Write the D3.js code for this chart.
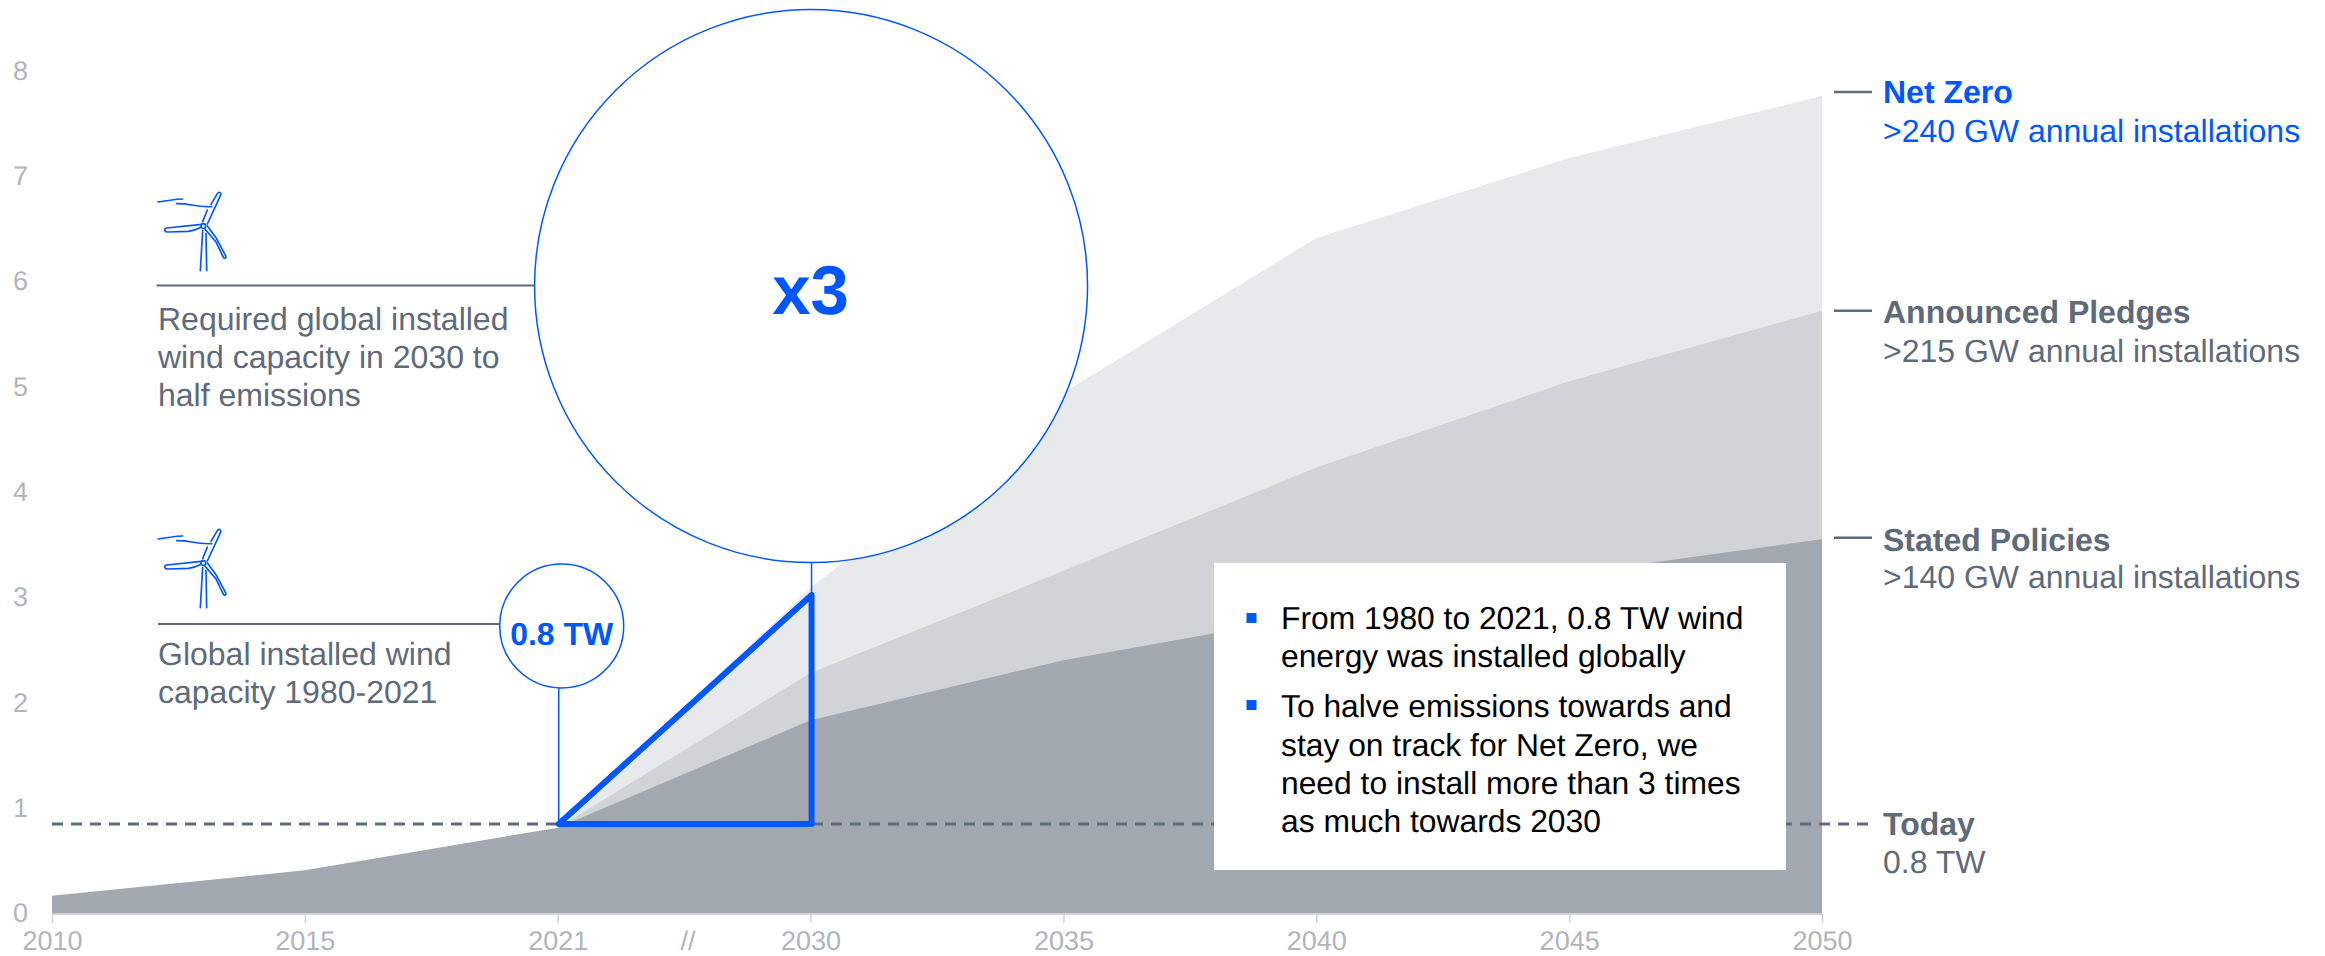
<!DOCTYPE html>
<html><head><meta charset="utf-8">
<script src="https://cdn.jsdelivr.net/npm/d3@7/dist/d3.min.js"></script>
<style>
html,body{margin:0;padding:0;background:#fff}
svg{display:block}
text{font-family:"Liberation Sans",Arial,sans-serif;text-rendering:geometricPrecision}
</style></head><body>
<svg id="chart" width="2325" height="956"></svg>
<script>
const years = ["2010","2015","2021","2030","2035","2040","2045","2050"];
const yTicks = [0,1,2,3,4,5,6,7,8];
const statedPolicies = [0.165,0.405,0.81,1.83,2.40,2.83,3.22,3.55];
const announcedPledges = [null,null,0.81,2.28,3.25,4.23,5.05,5.72];
const netZero = [null,null,0.81,3.09,4.94,6.41,7.17,7.76];
const today = 0.845;
const multiplier = 3.02;
const seriesColors = {net:"#e8e9eb",ann:"#d0d3d8",sta:"#a2a8af"};
const BLUE="#0057ff", GREY="#5f6b7a", TICK="#b0b5bd";

const svg=d3.select("#chart");
const x=d3.scalePoint().domain(years).range([52,1822]);
const y=d3.scaleLinear().domain([0,8]).range([913,70.6]);
const area=d3.area().defined(d=>d.v!==null).x(d=>x(d.year)).y0(y(0)).y1(d=>y(d.v));
const rows=a=>years.map((year,i)=>({year,v:a[i]}));

[[netZero,seriesColors.net],[announcedPledges,seriesColors.ann],[statedPolicies,seriesColors.sta]].forEach(([a,c])=>{
  svg.append("path").attr("d",area(rows(a))).attr("fill",c);
});

// axes
const gx=svg.append("g").attr("transform","translate(0,914)").call(d3.axisBottom(x).tickSize(9).tickPadding(8));
gx.select(".domain").attr("stroke","#d0d3d8").attr("stroke-width",2).attr("d",`M${x("2010")},0H${x("2050")}`);
gx.selectAll(".tick line").attr("stroke","#d0d3d8").attr("stroke-width",1.5);
gx.selectAll("text").attr("fill",TICK).attr("font-size",27).attr("font-family",'"Liberation Sans"');
const gy=svg.append("g").attr("transform","translate(28,0)").call(d3.axisLeft(y).tickValues(yTicks).tickSize(0).tickPadding(0));
gy.select(".domain").remove();
gy.selectAll("text").attr("fill",TICK).attr("font-size",27).attr("font-family",'"Liberation Sans"');
svg.append("text").text("//").attr("x",688).attr("y",950).attr("text-anchor","middle").attr("fill",TICK).attr("font-size",27);

// today dashed
svg.append("line").attr("x1",x("2010")).attr("x2",1872).attr("y1",y(today)).attr("y2",y(today))
  .attr("stroke",GREY).attr("stroke-width",3).attr("stroke-dasharray","11 8");

// big circle & connectors
const dx=1;
svg.append("line").attr("x1",156.5).attr("x2",534).attr("y1",285.5).attr("y2",285.5).attr("stroke",GREY).attr("stroke-width",2);
svg.append("circle").attr("cx",x("2030")+dx-0.5).attr("cy",286).attr("r",276.5).attr("fill","#fff").attr("stroke",BLUE).attr("stroke-width",1.5);
svg.append("line").attr("x1",x("2030")+dx).attr("x2",x("2030")+dx).attr("y1",562).attr("y2",y(multiplier)).attr("stroke",BLUE).attr("stroke-width",1.5);
svg.append("text").text("x3").attr("x",x("2030")+dx-1).attr("y",314).attr("text-anchor","middle").attr("fill",BLUE).attr("font-size",69).attr("font-weight",700);

// small circle
svg.append("line").attr("x1",158).attr("x2",499).attr("y1",624).attr("y2",624).attr("stroke",GREY).attr("stroke-width",2);
svg.append("line").attr("x1",x("2021")+dx).attr("x2",x("2021")+dx).attr("y1",688).attr("y2",y(today)).attr("stroke",BLUE).attr("stroke-width",1.5);
svg.append("circle").attr("cx",561.7).attr("cy",626).attr("r",62).attr("fill","#fff").attr("stroke",BLUE).attr("stroke-width",1.5);
svg.append("text").text("0.8 TW").attr("x",561.7).attr("y",645).attr("text-anchor","middle").attr("fill",BLUE).attr("font-size",32).attr("font-weight",700);

// triangle
const tri=d3.line().x(d=>x(d[0])+dx).y(d=>y(d[1])).curve(d3.curveLinearClosed);
svg.append("path").attr("d",tri([["2021",today],["2030",today],["2030",multiplier]]))
  .attr("fill","none").attr("stroke",BLUE).attr("stroke-width",6).attr("stroke-linejoin","round");

// left texts
function lines(arr,xp,attrs){arr.forEach(([t,b])=>{const s=svg.append("text").text(t).attr("x",xp).attr("y",b);
  Object.entries(attrs).forEach(([k,v])=>s.attr(k,v));});}
lines([["Required global installed",330],["wind capacity in 2030 to",368],["half emissions",406]],158,{fill:GREY,"font-size":32});
lines([["Global installed wind",665],["capacity 1980-2021",703]],158,{fill:GREY,"font-size":32});

// right labels
const rightLabels=[
 {t:"Net Zero",s:">240 GW annual installations",b1:103,b2:142,ly:92,c:BLUE},
 {t:"Announced Pledges",s:">215 GW annual installations",b1:323,b2:362,ly:310.7,c:GREY},
 {t:"Stated Policies",s:">140 GW annual installations",b1:551,b2:588,ly:537.7,c:GREY},
 {t:"Today",s:"0.8 TW",b1:835,b2:873,ly:null,c:GREY}];
rightLabels.forEach(d=>{
  if(d.ly!==null) svg.append("line").attr("x1",1834).attr("x2",1872).attr("y1",d.ly).attr("y2",d.ly).attr("stroke",GREY).attr("stroke-width",2.5);
  svg.append("text").text(d.t).attr("x",1883).attr("y",d.b1).attr("fill",d.c).attr("font-size",32).attr("font-weight",700);
  svg.append("text").text(d.s).attr("x",1883).attr("y",d.b2).attr("fill",d.c).attr("font-size",32);
});

// box
svg.append("rect").attr("x",1214).attr("y",563).attr("width",572).attr("height",307).attr("fill","#fff");
[613,700].forEach(b=>svg.append("rect").attr("x",1246.5).attr("y",b).attr("width",10).attr("height",10).attr("fill",BLUE));
lines([["From 1980 to 2021, 0.8 TW wind",629],["energy was installed globally",667],["To halve emissions towards and",717],["stay on track for Net Zero, we",756],["need to install more than 3 times",794],["as much towards 2030",832]],1281,{fill:"#000","font-size":31.8});

// turbine icons
const turbine=[
 "M84,96 Q105,93 125,90 Q142,87 158,87",
 "M140,101 Q165,101 185,105 Q215,111 245,110",
 "M218,155 L232,120",
 "M243,103 L262,71 Q268,63 272,70 Q273,74 270,80 L232,162",
 "M215,163 L110,174 Q103,176 104,181 Q106,186 113,186 L175,184 Q195,182 213,172",
 "M224,176 L258,216 L280,262 Q284,268 288,262 Q288,258 285,254 L258,203 L232,168",
 "M218,182 L211,302",
 "M228,190 L230,302"];
[[130,170],[130,507]].forEach(([tx,ty])=>{
  const g=svg.append("g").attr("transform",`translate(${tx},${ty}) scale(${1/3})`).attr("fill","none").attr("stroke",BLUE).attr("stroke-width",5).attr("stroke-linecap","round");
  turbine.forEach(p=>g.append("path").attr("d",p));
  g.append("circle").attr("cx",220).attr("cy",168).attr("r",7);
});
</script></body></html>
